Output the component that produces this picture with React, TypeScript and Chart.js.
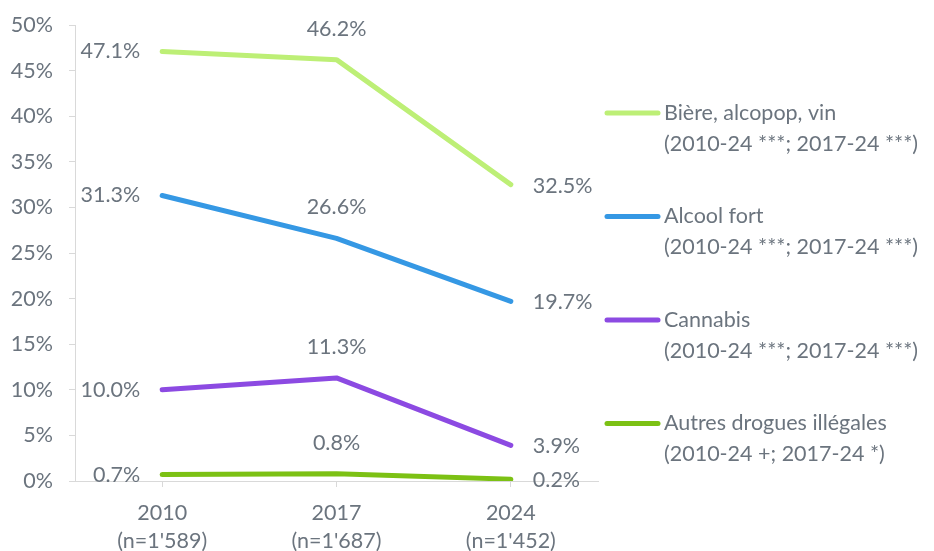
import React, { useEffect, useRef } from "react";
import { Chart, registerables } from "chart.js";

Chart.register(...registerables);

const years = ["2010", "2017", "2024"];
const sampleSizes = ["(n=1'589)", "(n=1'687)", "(n=1'452)"];
const seriesNames = ["Bière, alcopop, vin", "Alcool fort", "Cannabis", "Autres drogues illégales"];
const seriesNotes = [
  "(2010-24 ***; 2017-24 ***)",
  "(2010-24 ***; 2017-24 ***)",
  "(2010-24 ***; 2017-24 ***)",
  "(2010-24 +; 2017-24 *)",
];
const biere = [47.1, 46.2, 32.5];
const alcoolFort = [31.3, 26.6, 19.7];
const cannabis = [10.0, 11.3, 3.9];
const autres = [0.7, 0.8, 0.2];
const yTicks = [0, 5, 10, 15, 20, 25, 30, 35, 40, 45, 50];

const colors = ["#bdef76", "#3598e4", "#8c4ae2", "#7cc114"];
const TEXT = "#6b747e";
const GRID = "#d9d9d9";
const FONT = "Lato, 'Open Sans', sans-serif";
const FS = 21.5;

const fmt = (v: number) => v.toFixed(1) + "%";

const labelPlugin = {
  id: "valueLabels",
  afterDatasetsDraw(chart: any) {
    const ctx = chart.ctx;
    ctx.save();
    ctx.font = `${FS}px ${FONT}`;
    ctx.fillStyle = TEXT;
    chart.data.datasets.forEach((ds: any, di: number) => {
      const meta = chart.getDatasetMeta(di);
      meta.data.forEach((pt: any, i: number) => {
        const v = ds.data[i];
        const t = fmt(v);
        if (i === 0) {
          ctx.textAlign = "right";
          ctx.textBaseline = "middle";
          ctx.fillText(t, pt.x - 22, pt.y);
        } else if (i === 1) {
          ctx.textAlign = "center";
          ctx.textBaseline = "middle";
          ctx.fillText(t, pt.x, pt.y - 31);
        } else {
          ctx.textAlign = "left";
          ctx.textBaseline = "middle";
          ctx.fillText(t, pt.x + 22, pt.y + 1);
        }
      });
    });
    ctx.restore();
  },
};

const legendPlugin = {
  id: "sideLegend",
  afterDraw(chart: any) {
    const ctx = chart.ctx;
    ctx.save();
    ctx.font = `${FS}px ${FONT}`;
    ctx.fillStyle = TEXT;
    ctx.textAlign = "left";
    ctx.textBaseline = "middle";
    const startY = 113;
    const gap = 103.5;
    seriesNames.forEach((name, i) => {
      const y = startY + i * gap;
      ctx.strokeStyle = colors[i];
      ctx.lineWidth = 5;
      ctx.lineCap = "round";
      ctx.beginPath();
      ctx.moveTo(607, y);
      ctx.lineTo(658, y);
      ctx.stroke();
      ctx.fillText(name, 664, y);
      ctx.fillText(seriesNotes[i], 664, y + 31);
    });
    ctx.restore();
  },
};

export default function App() {
  const ref = useRef<HTMLCanvasElement | null>(null);
  useEffect(() => {
    if (!ref.current) return;
    const data = [biere, alcoolFort, cannabis, autres];
    const chart = new Chart(ref.current, {
      type: "line",
      data: {
        labels: years.map((y, i) => [y, sampleSizes[i]]),
        datasets: seriesNames.map((n, i) => ({
          label: n,
          data: data[i],
          borderColor: colors[i],
          backgroundColor: colors[i],
          borderWidth: 5,
          borderCapStyle: "round",
          borderJoinStyle: "round",
          pointRadius: 0,
          tension: 0,
        })),
      },
      options: {
        animation: false,
        responsive: true,
        maintainAspectRatio: false,
        layout: { padding: { left: 0, right: 336, top: 25, bottom: 0 } },
        plugins: { legend: { display: false }, tooltip: { enabled: false } },
        scales: {
          x: {
            offset: true,
            grid: {
              offset: false,
              drawOnChartArea: false,
              drawTicks: true,
              tickLength: 6,
              color: GRID,
            },
            border: { color: GRID, width: 1 },
            ticks: {
              color: TEXT,
              font: { family: FONT, size: FS, lineHeight: 1.3 },
              padding: 12,
              maxRotation: 0,
            },
            afterFit: (s: any) => {
              s.height = 70;
            },
          },
          y: {
            min: 0,
            max: 50,
            afterBuildTicks: (s: any) => {
              s.ticks = yTicks.map((v) => ({ value: v }));
            },
            grid: {
              drawOnChartArea: false,
              drawTicks: true,
              tickLength: 6,
              color: GRID,
            },
            border: { color: GRID, width: 1 },
            ticks: {
              color: TEXT,
              font: { family: FONT, size: FS },
              padding: 16,
              callback: (v: any) => v + "%",
            },
            afterFit: (s: any) => {
              s.width = 75;
              s.paddingTop = 0;
              s.paddingBottom = 0;
            },
          },
        },
      },
      plugins: [labelPlugin, legendPlugin],
    } as any);
    return () => chart.destroy();
  }, []);
  return (
    <div style={{ position: "fixed", left: 0, top: 0, width: 934, height: 551, background: "#fff" }}>
      <canvas ref={ref} />
    </div>
  );
}
